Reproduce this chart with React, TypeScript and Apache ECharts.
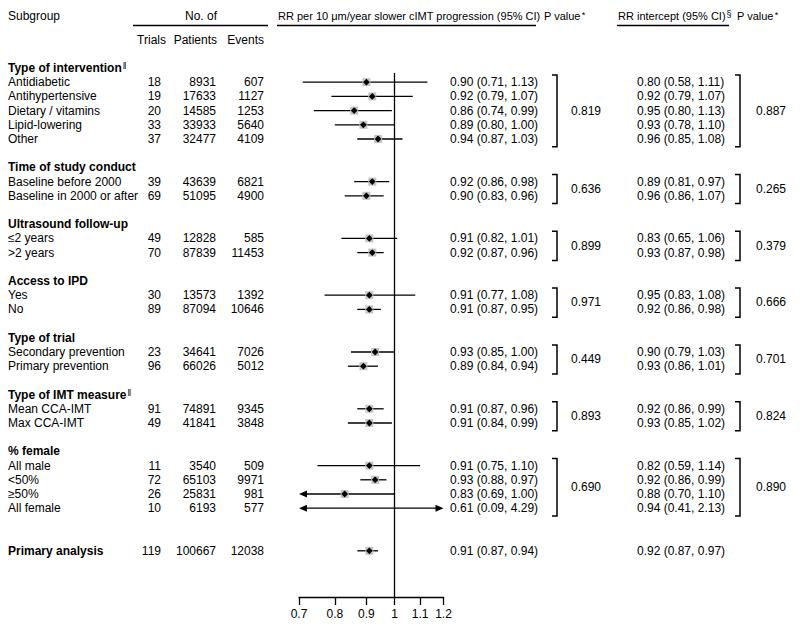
import React, { useEffect, useRef } from 'react';
import * as echarts from 'echarts';

// ---------- data ----------
const groupTitles = ['Type of intervention', 'Time of study conduct', 'Ultrasound follow-up', 'Access to IPD', 'Type of trial', 'Type of IMT measure', '% female'];
const groupFootnote = ['\u2016', '', '', '', '', '\u2016', ''];
const groupSizes = [5, 2, 2, 2, 2, 2, 4];
const subgroupLabels = [
  'Antidiabetic', 'Antihypertensive', 'Dietary / vitamins', 'Lipid-lowering', 'Other',
  'Baseline before 2000', 'Baseline in 2000 or after',
  '\u22642 years', '>2 years',
  'Yes', 'No',
  'Secondary prevention', 'Primary prevention',
  'Mean CCA-IMT', 'Max CCA-IMT',
  'All male', '<50%', '\u226550%', 'All female',
];
const trials = [18, 19, 20, 33, 37, 39, 69, 49, 70, 30, 89, 23, 96, 91, 49, 11, 72, 26, 10];
const patients = [8931, 17633, 14585, 33933, 32477, 43639, 51095, 12828, 87839, 13573, 87094, 34641, 66026, 74891, 41841, 3540, 65103, 25831, 6193];
const events = [607, 1127, 1253, 5640, 4109, 6821, 4900, 585, 11453, 1392, 10646, 7026, 5012, 9345, 3848, 509, 9971, 981, 577];
const rrEst = [0.90, 0.92, 0.86, 0.89, 0.94, 0.92, 0.90, 0.91, 0.92, 0.91, 0.91, 0.93, 0.89, 0.91, 0.91, 0.91, 0.93, 0.83, 0.61];
const rrLow = [0.71, 0.79, 0.74, 0.80, 0.87, 0.86, 0.83, 0.82, 0.87, 0.77, 0.87, 0.85, 0.84, 0.87, 0.84, 0.75, 0.88, 0.69, 0.09];
const rrHigh = [1.13, 1.07, 0.99, 1.00, 1.03, 0.98, 0.96, 1.01, 0.96, 1.08, 0.95, 1.00, 0.94, 0.96, 0.99, 1.10, 0.97, 1.00, 4.29];
const intEst = [0.80, 0.92, 0.95, 0.93, 0.96, 0.89, 0.96, 0.83, 0.93, 0.95, 0.92, 0.90, 0.93, 0.92, 0.93, 0.82, 0.92, 0.88, 0.94];
const intLow = [0.58, 0.79, 0.80, 0.78, 0.85, 0.81, 0.86, 0.65, 0.87, 0.83, 0.86, 0.79, 0.86, 0.86, 0.85, 0.59, 0.86, 0.70, 0.41];
const intHigh = [1.11, 1.07, 1.13, 1.10, 1.08, 0.97, 1.07, 1.06, 0.98, 1.08, 0.98, 1.03, 1.01, 0.99, 1.02, 1.14, 0.99, 1.10, 2.13];
const pSlope = ['0.819', '0.636', '0.899', '0.971', '0.449', '0.893', '0.690'];
const pIntercept = ['0.887', '0.265', '0.379', '0.666', '0.701', '0.824', '0.890'];
const overallLabel = 'Primary analysis';
const overallCounts = [119, 100667, 12038];
const overallRR = [0.91, 0.87, 0.94];
const overallIntercept = [0.92, 0.87, 0.97];
const axisTicks = [0.7, 0.8, 0.9, 1, 1.1, 1.2];

// ---------- layout ----------
const FF = '"Liberation Sans", Arial, sans-serif';
const FS = 12;
const FS_HEAD = 11;
const ROW_H = 14.2;
const ROW0_Y = 68;
const PLOT_TOP = 73;
const PLOT_BOTTOM = 597;
const PLOT_LEFT = 299;
const PLOT_RIGHT = 443.5;
const X_MIN = 0.7;
const X_MAX = 1.2;
const W = 800;
const H = 628;
const toRow = (y: number) => (y - ROW0_Y) / ROW_H;

const COL = { label: 8, trials: 161, patients: 216, events: 264, rr: 450, p1: 586, br1: 557, intc: 637, br2: 740, p2: 771 };

const ci = (e: number, l: number, h: number) => `${e.toFixed(2)} (${l.toFixed(2)}, ${h.toFixed(2)})`;

type T = { x: number; row: number; text: string; align: 'left' | 'right' | 'center'; bold?: boolean };
const texts: T[] = [];
const forest: number[][] = [];
const brackets: number[][] = [];

let r = 0;
let k = 0;
groupSizes.forEach((n, g) => {
  if (groupFootnote[g]) {
    texts.push({ x: COL.label, row: r, align: 'left', text: `{b|${groupTitles[g]}}{s|${groupFootnote[g]}}` });
  } else {
    texts.push({ x: COL.label, row: r, align: 'left', text: groupTitles[g], bold: true });
  }
  r++;
  const start = r;
  for (let i = 0; i < n; i++, k++, r++) {
    texts.push({ x: COL.label, row: r, align: 'left', text: subgroupLabels[k] });
    texts.push({ x: COL.trials, row: r, align: 'right', text: String(trials[k]) });
    texts.push({ x: COL.patients, row: r, align: 'right', text: String(patients[k]) });
    texts.push({ x: COL.events, row: r, align: 'right', text: String(events[k]) });
    texts.push({ x: COL.rr, row: r, align: 'left', text: ci(rrEst[k], rrLow[k], rrHigh[k]) });
    texts.push({ x: COL.intc, row: r, align: 'left', text: ci(intEst[k], intLow[k], intHigh[k]) });
    forest.push([rrEst[k], r, rrLow[k], rrHigh[k]]);
  }
  const end = r - 1;
  const mid = (start + end) / 2;
  texts.push({ x: COL.p1, row: mid, align: 'center', text: pSlope[g] });
  texts.push({ x: COL.p2, row: mid, align: 'center', text: pIntercept[g] });
  brackets.push([COL.br1, start, end]);
  brackets.push([COL.br2, start, end]);
  r++;
});
const primaryRow = r + 1;
texts.push({ x: COL.label, row: primaryRow, align: 'left', text: overallLabel, bold: true });
texts.push({ x: COL.trials, row: primaryRow, align: 'right', text: String(overallCounts[0]) });
texts.push({ x: COL.patients, row: primaryRow, align: 'right', text: String(overallCounts[1]) });
texts.push({ x: COL.events, row: primaryRow, align: 'right', text: String(overallCounts[2]) });
texts.push({ x: COL.rr, row: primaryRow, align: 'left', text: ci(overallRR[0], overallRR[1], overallRR[2]) });
texts.push({ x: COL.intc, row: primaryRow, align: 'left', text: ci(overallIntercept[0], overallIntercept[1], overallIntercept[2]) });
forest.push([overallRR[0], primaryRow, overallRR[1], overallRR[2]]);

const richStyles = {
  b: { fontWeight: 'bold', fontSize: FS, fontFamily: FF, fill: '#000' },
  n: { fontSize: FS, fontFamily: FF, fill: '#000' },
  h: { fontSize: FS_HEAD, fontFamily: FF, fill: '#000' },
  s: { fontSize: 9, fontFamily: FF, fill: '#000', verticalAlign: 'top', padding: [0, 0, 4, 1] },
  a: { fontSize: 9, fontFamily: FF, fill: '#000', verticalAlign: 'top', padding: [0, 0, 2, 1] },
};

const headerText = (x: number, y: number, text: string, align: string = 'left', size: number = FS) => ({
  type: 'text', x, y,
  style: { text, fill: '#000', fontSize: size, fontFamily: FF, align, verticalAlign: 'middle', rich: richStyles },
});
const hline = (x1: number, x2: number, y: number) => ({
  type: 'line', shape: { x1, y1: y, x2, y2: y }, style: { stroke: '#000', lineWidth: 1.3 },
});

export default function App() {
  const ref = useRef<HTMLDivElement>(null);
  useEffect(() => {
    document.body.style.margin = '0';
    const chart = echarts.init(ref.current!, null, { renderer: 'svg' });
    const option: any = {
      animation: false,
      backgroundColor: '#fff',
      grid: [
        { left: PLOT_LEFT, top: PLOT_TOP, width: PLOT_RIGHT - PLOT_LEFT, height: PLOT_BOTTOM - PLOT_TOP },
        { left: 0, top: 0, width: W, height: H },
      ],
      xAxis: [
        {
          type: 'log', logBase: 10, min: X_MIN, max: X_MAX, gridIndex: 0, position: 'bottom',
          axisLine: { show: true, onZero: false, lineStyle: { color: '#000', width: 1.3 } },
          axisTick: { show: true, length: 8, customValues: axisTicks, lineStyle: { color: '#000', width: 1.3 } },
          axisLabel: { customValues: axisTicks, color: '#000', fontSize: FS, fontFamily: FF, margin: 11, formatter: (v: number) => String(+(+v).toFixed(2)), hideOverlap: false, showMinLabel: true, showMaxLabel: true },
          splitLine: { show: false },
          minorTick: { show: false },
        },
        { type: 'value', min: 0, max: W, gridIndex: 1, show: false },
      ],
      yAxis: [
        { type: 'value', inverse: true, min: toRow(PLOT_TOP), max: toRow(PLOT_BOTTOM), gridIndex: 0, show: false },
        { type: 'value', inverse: true, min: toRow(0), max: toRow(H), gridIndex: 1, show: false },
      ],
      series: [
        {
          type: 'custom', xAxisIndex: 0, yAxisIndex: 0, data: forest, encode: { x: 0, y: 1 }, clip: false,
          renderItem: (params: any, api: any) => {
            const est = api.value(0), row = api.value(1), lo = api.value(2), hi = api.value(3);
            const l = Math.max(lo, X_MIN), h = Math.min(hi, X_MAX);
            const pL = api.coord([l, row]);
            const pH = api.coord([h, row]);
            const y = pL[1];
            const children: any[] = [];
            const AL = 8, AH = 3.5;
            const x1 = lo < X_MIN ? pL[0] + AL - 1 : pL[0];
            const x2 = hi > X_MAX ? pH[0] - AL + 1 : pH[0];
            children.push({ type: 'line', shape: { x1, y1: y, x2, y2: y }, style: { stroke: '#000', lineWidth: 1.3 } });
            if (lo < X_MIN) children.push({ type: 'polygon', shape: { points: [[pL[0], y], [pL[0] + AL, y - AH], [pL[0] + AL, y + AH]] }, style: { fill: '#000' } });
            if (hi > X_MAX) children.push({ type: 'polygon', shape: { points: [[pH[0], y], [pH[0] - AL, y - AH], [pH[0] - AL, y + AH]] }, style: { fill: '#000' } });
            if (est >= X_MIN && est <= X_MAX) {
              const pE = api.coord([est, row]);
              const s = 4;
              children.push({ type: 'rect', shape: { x: pE[0] - s, y: y - s, width: 2 * s, height: 2 * s }, style: { fill: '#c4c4c4' } });
              const d = 3.4;
              children.push({ type: 'polygon', shape: { points: [[pE[0], y - d], [pE[0] + d, y], [pE[0], y + d], [pE[0] - d, y]] }, style: { fill: '#000' } });
            }
            return { type: 'group', children };
          },
          markLine: {
            silent: true, symbol: 'none', animation: false,
            label: { show: false },
            lineStyle: { color: '#000', width: 1.3, type: 'solid' },
            data: [{ xAxis: 1 }],
          },
        },
        {
          type: 'custom', xAxisIndex: 1, yAxisIndex: 1, data: brackets, encode: { x: 0, y: 1 }, clip: false,
          renderItem: (params: any, api: any) => {
            const x = api.value(0), s = api.value(1), e = api.value(2);
            const pT = api.coord([x, s - 0.5]);
            const pB = api.coord([x, e + 0.55]);
            return {
              type: 'polyline',
              shape: { points: [[pT[0] - 5, pT[1]], [pT[0], pT[1]], [pB[0], pB[1]], [pB[0] - 5, pB[1]]] },
              style: { stroke: '#000', lineWidth: 1.5, fill: 'none' },
            };
          },
        },
        {
          type: 'custom', xAxisIndex: 1, yAxisIndex: 1, data: texts.map((t) => [t.x, t.row]), encode: { x: 0, y: 1 }, clip: false,
          renderItem: (params: any, api: any) => {
            const t = texts[params.dataIndex];
            const p = api.coord([api.value(0), api.value(1)]);
            return {
              type: 'text', x: p[0], y: p[1],
              style: {
                text: t.text, fill: '#000', fontSize: FS, fontFamily: FF,
                fontWeight: t.bold ? 'bold' : 'normal', align: t.align, verticalAlign: 'middle', rich: richStyles,
              },
            };
          },
        },
      ],
      graphic: [
        headerText(8, 16, 'Subgroup'),
        headerText(201, 16, 'No. of', 'center'),
        hline(133, 268, 25.5),
        headerText(166, 40, 'Trials', 'right'),
        headerText(217, 40, 'Patients', 'right'),
        headerText(264, 40, 'Events', 'right'),
        headerText(278, 16, 'RR per 10 \u03bcm/year slower cIMT progression (95% CI)', 'left', FS_HEAD),
        hline(277, 536, 25.5),
        headerText(544, 16, '{h|P value}{a|*}', 'left', FS_HEAD),
        headerText(618, 16, '{h|RR intercept (95% CI)}{s|\u00a7}', 'left', FS_HEAD),
        hline(617, 729, 25.5),
        headerText(737, 16, '{h|P value}{a|*}', 'left', FS_HEAD),
      ],
    };
    chart.setOption(option);
    return () => chart.dispose();
  }, []);
  return <div ref={ref} style={{ width: W, height: H }} />;
}
